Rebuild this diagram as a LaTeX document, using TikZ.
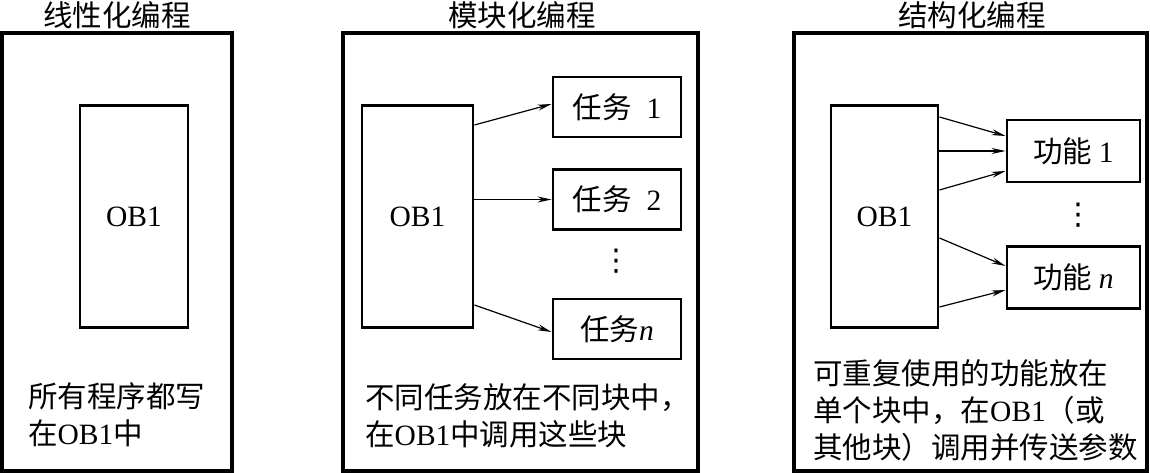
\documentclass[tikz,border=0pt]{standalone}
\usepackage{fontspec}
\setmainfont{Liberation Serif}
\newfontfamily\cjk{Noto Sans CJK SC}
\newfontfamily\lat{Liberation Serif}
\newfontfamily\symb{DejaVu Sans}
\usepackage{tikz}
\usetikzlibrary{arrows.meta,positioning}

\begin{document}
\begin{tikzpicture}[x=1pt,y=-1pt,
  every node/.style={font=\fontsize{29.5}{37}\selectfont\cjk},
  panel/.style={draw,line width=3.2pt,minimum height=438pt,inner sep=0pt},
  obbox/.style={draw,line width=2.9pt,minimum height=222pt},
  taskbox/.style={draw,line width=2.9pt,minimum width=128pt,minimum height=60pt},
  note/.style={align=left,anchor=west,inner sep=0pt},
  vdot/.style={inner sep=0pt,font=\fontsize{30}{30}\selectfont\symb},
  callarrow/.style={-{Stealth[length=14pt,width=6pt]},line width=1.2pt}]
\useasboundingbox (0,0) rectangle (1150,473);

% titles
\node (title1) at (117,15) {线性化编程};
\node (title2) at (522,15) {模块化编程};
\node (title3) at (972,15) {结构化编程};

% panels
\node[panel,minimum width=230pt] (panel1) at (117,252) {};
\node[panel,minimum width=355pt] (panel2) at (520.5,252) {};
\node[panel,minimum width=353pt] (panel3) at (970.5,252) {};

% linear
\node[obbox,minimum width=108pt] (ob1a) at (134,216.5) {\lat OB1};
\node[note] (note1) at (28,415) {所有程序都写\\在{\lat OB1}中};

% modular
\node[obbox,minimum width=111pt] (ob1b) at (417.5,216.5) {\lat OB1};
\node[taskbox] (task1) at (617,107) {任务\enspace{\lat 1}};
\node[taskbox] (task2) at (617,199.5) {任务\enspace{\lat 2}};
\node[vdot] (dots2) at (616,261) {⋮};
\node[taskbox] (taskn) at (617,329) {任务{\lat\itshape n}};
\draw[callarrow] ([yshift=91.5pt]ob1b.east) -- ([yshift=3pt]task1.west);
\draw[callarrow] (ob1b.east |- task2.west) -- (task2.west);
\draw[callarrow] ([yshift=-88.5pt]ob1b.east) -- ([yshift=-3pt]taskn.west);
\node[note] (note2) at (365,415.5) {不同任务放在不同块中，\\在{\lat OB1}中调用这些块};

% structured
\node[obbox,minimum width=107pt] (ob1c) at (884.5,216.5) {\lat OB1};
\node[taskbox,minimum width=133pt,minimum height=62pt] (func1) at (1073.5,151) {功能~{\lat 1}};
\node[vdot] (dots3) at (1078,215) {⋮};
\node[taskbox,minimum width=133pt,minimum height=62pt] (funcn) at (1073.5,277.5) {功能~{\lat\itshape n}};
\draw[callarrow] ([yshift=99.5pt]ob1c.east) -- ([yshift=15pt]func1.west);
\draw[callarrow] (ob1c.east |- func1.west) -- (func1.west);
\draw[callarrow] ([yshift=26.5pt]ob1c.east) -- ([yshift=-20pt]func1.west);
\draw[callarrow] ([yshift=-21.5pt]ob1c.east) -- ([yshift=11.5pt]funcn.west);
\draw[callarrow] ([yshift=-90.5pt]ob1c.east) -- ([yshift=-12.5pt]funcn.west);
\node[note] (note3) at (813,410) {可重复使用的功能放在\\单个块中，在{\lat OB1}（或\\其他块）调用并传送参数};
\end{tikzpicture}
\end{document}
